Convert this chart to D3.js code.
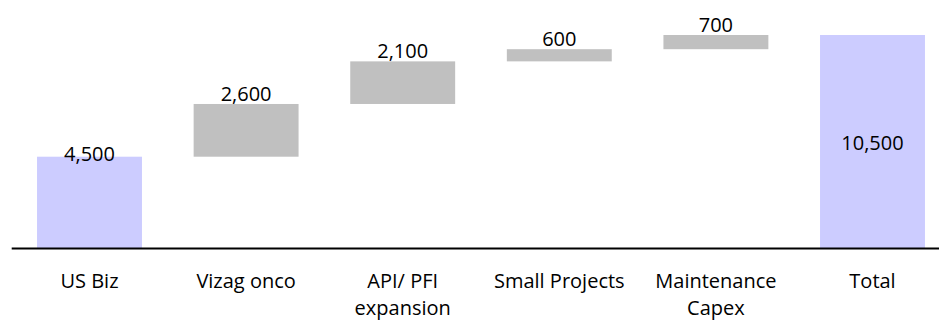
<!DOCTYPE html>
<html>
<head>
<meta charset="utf-8">
<script src="https://cdn.jsdelivr.net/npm/d3@7"></script>
<style>
  html, body { margin: 0; padding: 0; background: #fff; }
  svg { display: block; font-family: "Open Sans", sans-serif; }
</style>
</head>
<body>
<svg id="chart" width="939" height="320"></svg>
<script>
// Capex build-up: starting block, increments, and total
const categories = ["US Biz", "Vizag onco", "API/ PFI\nexpansion", "Small Projects", "Maintenance\nCapex", "Total"];
const values = [4500, 2600, 2100, 600, 700, 10500];
const kinds = ["total", "delta", "delta", "delta", "delta", "total"];

const colors = { total: "#CCCCFF", delta: "#C0C0C0" };
const fmt = d3.format(",");

const svg = d3.select("#chart");
const baseY = 248;

const x = d3.scaleBand()
  .domain(categories)
  .range([11.2, 950.8])
  .paddingInner(0.33)
  .paddingOuter(0.165);

const y = d3.scaleLinear()
  .domain([0, 10500])
  .range([baseY, 35]);

// running start/end of each block
let run = 0;
const rows = categories.map((c, i) => {
  let start, end;
  if (kinds[i] === "total") { start = 0; end = values[i]; run = values[i]; }
  else { start = run; end = run + values[i]; run = end; }
  return { cat: c, value: values[i], kind: kinds[i], start, end };
});

svg.append("g").selectAll("rect")
  .data(rows)
  .join("rect")
  .attr("x", d => x(d.cat))
  .attr("width", x.bandwidth())
  .attr("y", d => y(d.end))
  .attr("height", d => y(d.start) - y(d.end))
  .attr("fill", d => colors[d.kind]);

// value labels: last total sits inside its bar, the others at the top edge
svg.append("g").selectAll("text")
  .data(rows)
  .join("text")
  .attr("x", d => x(d.cat) + x.bandwidth() / 2)
  .attr("y", (d, i) => i === rows.length - 1
      ? (y(d.start) + y(d.end)) / 2 + 8
      : y(d.end) + (d.kind === "total" ? 4 : -3))
  .attr("text-anchor", "middle")
  .attr("font-size", 20)
  .attr("fill", "#000")
  .text(d => fmt(d.value));

// category axis
const axis = svg.append("g")
  .attr("transform", `translate(0,${baseY})`)
  .call(d3.axisBottom(x).tickSize(0).tickPadding(0));

axis.select(".domain").attr("stroke", "#000").attr("stroke-width", 2);
axis.selectAll(".tick text").each(function(d) {
  const t = d3.select(this).text(null)
    .attr("y", 0).attr("dy", null)
    .attr("font-size", 20)
    .attr("font-family", "Open Sans, sans-serif")
    .attr("fill", "#000");
  d.split("\n").forEach((line, k) => {
    t.append("tspan")
      .attr("x", 0)
      .attr("y", 40 + k * 27)
      .text(line);
  });
});
</script>
</body>
</html>
